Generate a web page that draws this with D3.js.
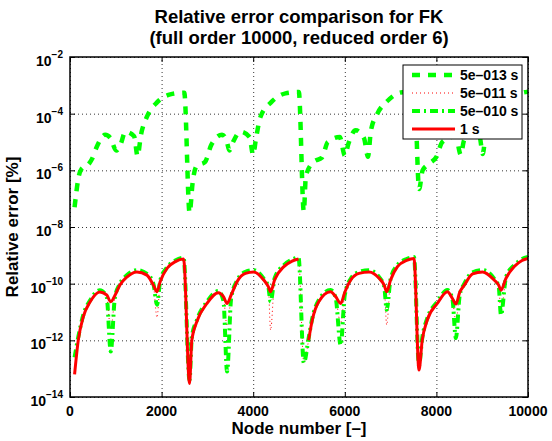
<!DOCTYPE html>
<html lang="en">
<head>
<meta charset="utf-8">
<title>Relative error comparison for FK</title>
<script src="https://d3js.org/d3.v7.min.js"></script>
<style>
  body { margin: 0; background: #fff; }
  svg { display: block; font-family: "Liberation Sans", Arial, sans-serif; font-weight: bold; }
  .grid line { stroke: #000; stroke-width: 0.8; stroke-dasharray: 1,3; }
  .grid path { display: none; }
  .ticks line { stroke: #000; stroke-width: 1; }
  .ticks path { display: none; }
</style>
</head>
<body>
<div id="chart"></div>
<script>
// tick values
var xTicks = [0, 2000, 4000, 6000, 8000, 10000];
var yTickExps = [-14, -12, -10, -8, -6, -4, -2];
var seriesNames = ["5e\u2013013 s", "5e\u2013011 s", "5e\u2013010 s", "1 s"];

// 5e-013 s (upper curve)
var nodesHigh = [100,130,180,250,400,480,590,770,880,1010,1100,1210,1400,1475,1550,1680,1900,2190,2495,2611,
  2680,2760,2950,3085,3320,3420,3480,3560,3720,3920,3998,4060,4160,4390,4705,4996,5105,
  5150,5320,5500,5630,5890,6002,6080,6236,6420,6506,6570,6711,6930,7221,7520,7622,
  7700,7860,8000,8130,8420,8534,8600,8780,8950,9009,9080,9250,9500,9750,10000];
var err5e13 = [5.0e-8,1.3e-7,5.0e-7,1.1e-6,1.6e-6,2.5e-6,7.1e-6,1.8e-5,1.4e-5,5.0e-6,7.9e-6,2.3e-5,1.6e-5,3.2e-6,1.8e-5,7.8e-5,2.5e-4,4.8e-4,5.5e-4,3.2e-8,
  4.0e-7,1.4e-6,2.0e-6,7.9e-6,1.8e-5,1.1e-5,5.0e-6,1.0e-5,2.3e-5,1.5e-5,3.5e-6,1.3e-5,7.8e-5,2.5e-4,5.2e-4,5.8e-4,3.5e-8,
  6.3e-7,2.0e-6,2.8e-6,1.0e-5,1.5e-5,3.3e-6,8.9e-6,2.6e-5,1.35e-5,3.0e-6,2.5e-5,1.0e-4,2.8e-4,5.6e-4,6.0e-4,2.2e-7,
  1.0e-6,1.8e-6,3.0e-6,1.0e-5,1.6e-5,3.5e-6,1.1e-5,2.5e-5,1.4e-5,3.8e-6,2.0e-5,7.9e-5,2.5e-4,4.7e-4,6.0e-4];

// lower curves, same nodes
var nodesLow = [100,180,290,440,650,800,890,980,1090,1240,1460,1680,1820,1900,1970,2120,2300,2480,
  2610,2660,2770,2990,3240,3350,3430,3520,3650,3830,4010,4230,4330,4380,4470,4670,4850,4990,
  5105,5210,5290,5430,5690,5800,5910,6000,6130,6310,6530,6750,6860,6915,7000,7150,7350,7510,
  7620,7690,7800,8020,8240,8350,8425,8510,8610,8790,9010,9260,9360,9410,9520,9700,9870,10000];
var err5e11 = [7.9e-14,1.0e-12,6.8e-12,2.3e-11,5.1e-11,3.2e-11,2.5e-12,3.2e-11,8.9e-11,1.7e-10,2.6e-10,2.0e-10,8.9e-11,6.3e-12,1.2e-10,3.5e-10,6.0e-10,7.4e-10,
  4.0e-14,1.0e-12,4.6e-12,2.0e-11,4.8e-11,3.0e-11,3.2e-12,3.5e-11,1.2e-10,2.3e-10,2.6e-10,1.35e-10,7.1e-11,2.3e-12,1.4e-10,4.0e-10,6.3e-10,7.4e-10,
  1.6e-13,1.0e-12,5.2e-12,2.3e-11,5.2e-11,3.0e-11,4.0e-12,4.5e-11,1.35e-10,2.3e-10,2.6e-10,1.55e-10,7.9e-11,3.5e-12,1.35e-10,4.0e-10,6.6e-10,7.8e-10,
  1.3e-13,1.0e-12,5.2e-12,2.0e-11,5.2e-11,2.8e-11,5.0e-12,4.5e-11,8.9e-11,2.2e-10,2.6e-10,1.35e-10,7.9e-11,1.0e-11,1.55e-10,4.0e-10,6.6e-10,7.8e-10];
var err5e10 = [2.5e-13,1.3e-12,7.9e-12,2.6e-11,5.9e-11,3.5e-11,4.0e-13,3.2e-11,1.0e-10,2.0e-10,3.0e-10,2.2e-10,1.0e-10,1.8e-11,1.3e-10,3.8e-10,6.6e-10,8.3e-10,
  4.0e-14,1.3e-12,5.2e-12,2.3e-11,5.5e-11,2.5e-11,7.9e-14,3.2e-11,1.3e-10,2.6e-10,3.0e-10,1.5e-10,7.9e-11,2.3e-11,1.6e-10,4.5e-10,7.1e-10,8.3e-10,
  1.6e-13,1.2e-12,6.0e-12,2.6e-11,6.0e-11,3.2e-11,6.8e-13,4.0e-11,1.5e-10,2.6e-10,3.0e-10,1.7e-10,7.9e-11,1.2e-11,1.5e-10,4.5e-10,7.4e-10,8.7e-10,
  1.3e-13,1.2e-12,6.0e-12,2.3e-11,6.0e-11,2.8e-11,1.2e-12,4.0e-11,1.0e-10,2.5e-10,3.0e-10,1.5e-10,7.9e-11,7.8e-12,1.7e-10,4.5e-10,7.4e-10,8.7e-10];
var err1s = [6.3e-14,1.0e-12,6.8e-12,2.3e-11,5.1e-11,4.0e-11,2.3e-11,3.8e-11,8.9e-11,1.7e-10,2.6e-10,2.0e-10,8.9e-11,5.2e-11,1.2e-10,3.5e-10,6.0e-10,7.4e-10,
  3.0e-14,1.0e-12,4.6e-12,2.0e-11,4.8e-11,3.5e-11,2.0e-11,4.0e-11,1.2e-10,2.3e-10,2.6e-10,1.35e-10,7.9e-11,5.2e-11,1.4e-10,4.0e-10,6.3e-10,7.4e-10,
  null,1.0e-12,5.2e-12,2.3e-11,5.2e-11,3.5e-11,2.0e-11,5.0e-11,1.35e-10,2.3e-10,2.6e-10,1.55e-10,8.9e-11,5.2e-11,1.35e-10,4.0e-10,6.6e-10,7.8e-10,
  8.9e-14,1.0e-12,5.2e-12,2.0e-11,5.2e-11,3.0e-11,1.9e-11,5.0e-11,8.9e-11,2.2e-10,2.6e-10,1.35e-10,8.9e-11,5.9e-11,1.55e-10,4.0e-10,6.6e-10,7.8e-10];

var width = 552, height = 441;
var margin = {top: 57, right: 24, bottom: 44, left: 70};
var w = width - margin.left - margin.right;
var h = height - margin.top - margin.bottom;

var svg = d3.select("#chart").append("svg")
    .attr("width", width)
    .attr("height", height);

svg.append("rect").attr("width", width).attr("height", height).attr("fill", "#fff");

var x = d3.scaleLinear().domain([0, 10000]).range([0, w]);
var y = d3.scaleLog().domain([1e-14, 1e-2]).range([h, 0]);
var yTicks = yTickExps.map(function(e) { return Math.pow(10, e); });

var g = svg.append("g")
    .attr("transform", "translate(" + margin.left + "," + margin.top + ")");

// grid
g.append("g").attr("class", "grid")
    .attr("transform", "translate(0," + h + ")")
    .call(d3.axisBottom(x).tickValues(xTicks).tickSize(-h).tickFormat(""));
g.append("g").attr("class", "grid")
    .call(d3.axisLeft(y).tickValues(yTicks).tickSize(-w).tickFormat(""));

// data lines
g.append("clipPath").attr("id", "clip")
  .append("rect").attr("width", w).attr("height", h);

function lineFor(nodes) {
  return d3.line()
      .defined(function(d) { return d != null; })
      .x(function(d, i) { return x(nodes[i]); })
      .y(function(d) { return y(d); })
      .curve(d3.curveMonotoneX);
}

var plot = g.append("g").attr("clip-path", "url(#clip)");

var styles = [
  {color: "#00ff00", width: 4.5, dash: "8,8"},
  {color: "#ff0000", width: 1, dash: "1,3"},
  {color: "#00ff00", width: 4, dash: "8,4,2,4"},
  {color: "#ff0000", width: 3, dash: null}
];

plot.append("path").datum(err5e13)
    .attr("d", lineFor(nodesHigh))
    .attr("fill", "none")
    .attr("stroke", styles[0].color).attr("stroke-width", styles[0].width)
    .attr("stroke-dasharray", styles[0].dash);
plot.append("path").datum(err5e11)
    .attr("d", lineFor(nodesLow))
    .attr("fill", "none")
    .attr("stroke", styles[1].color).attr("stroke-width", styles[1].width)
    .attr("stroke-dasharray", styles[1].dash);
plot.append("path").datum(err5e10)
    .attr("d", lineFor(nodesLow))
    .attr("fill", "none")
    .attr("stroke", styles[2].color).attr("stroke-width", styles[2].width)
    .attr("stroke-dasharray", styles[2].dash);
plot.append("path").datum(err1s)
    .attr("d", lineFor(nodesLow))
    .attr("fill", "none")
    .attr("stroke", styles[3].color).attr("stroke-width", styles[3].width)
    .attr("stroke-linejoin", "round");

// ticks on all four sides (pointing inward)
g.append("g").attr("class", "ticks").attr("transform", "translate(0," + h + ")")
    .call(d3.axisBottom(x).tickValues(xTicks).tickSize(-5).tickFormat(""));
g.append("g").attr("class", "ticks")
    .call(d3.axisTop(x).tickValues(xTicks).tickSize(-5).tickFormat(""));
g.append("g").attr("class", "ticks")
    .call(d3.axisLeft(y).tickValues(yTicks).tickSize(-5).tickFormat(""));
g.append("g").attr("class", "ticks").attr("transform", "translate(" + w + ",0)")
    .call(d3.axisRight(y).tickValues(yTicks).tickSize(-5).tickFormat(""));

// box
g.append("rect").attr("width", w).attr("height", h)
    .attr("fill", "none").attr("stroke", "#000").attr("stroke-width", 1.5);

// tick labels
g.selectAll(".xlab").data(xTicks).enter().append("text")
    .attr("x", function(d) { return x(d); })
    .attr("y", h + 19)
    .attr("text-anchor", "middle")
    .attr("font-size", 14)
    .text(function(d) { return d; });

var ylab = g.selectAll(".ylab").data(yTickExps).enter().append("text")
    .attr("x", -7)
    .attr("y", function(d) { return y(Math.pow(10, d)) + 9; })
    .attr("text-anchor", "end")
    .attr("font-size", 14);
ylab.append("tspan").text("10");
ylab.append("tspan").attr("dy", -8).attr("font-size", 10)
    .text(function(d) { return "\u2212" + (-d); });

// axis titles
g.append("text")
    .attr("x", w / 2).attr("y", h + 37)
    .attr("text-anchor", "middle").attr("font-size", 17)
    .text("Node number [\u2013]");
g.append("text")
    .attr("transform", "translate(-52," + (h / 2) + ") rotate(-90)")
    .attr("text-anchor", "middle").attr("font-size", 17)
    .text("Relative error [%]");

// title
svg.append("text")
    .attr("x", margin.left + w / 2).attr("y", 23)
    .attr("text-anchor", "middle").attr("font-size", 18.5)
    .text("Relative error comparison for FK");
svg.append("text")
    .attr("x", margin.left + w / 2).attr("y", 44)
    .attr("text-anchor", "middle").attr("font-size", 18.5)
    .text("(full order 10000, reduced order 6)");

// legend
var legend = svg.append("g").attr("transform", "translate(403,65)");
legend.append("rect").attr("width", 119).attr("height", 74)
    .attr("fill", "#fff").attr("stroke", "#000").attr("stroke-width", 1);
var item = legend.selectAll(".item").data(seriesNames).enter().append("g")
    .attr("transform", function(d, i) { return "translate(0," + (10 + i * 18) + ")"; });
item.append("line")
    .attr("x1", 9).attr("x2", 52)
    .attr("stroke", function(d, i) { return styles[i].color; })
    .attr("stroke-width", function(d, i) { return styles[i].width; })
    .attr("stroke-dasharray", function(d, i) { return styles[i].dash; });
item.append("text")
    .attr("x", 57).attr("y", 5)
    .attr("font-size", 14)
    .text(function(d) { return d; });
</script>
</body>
</html>
